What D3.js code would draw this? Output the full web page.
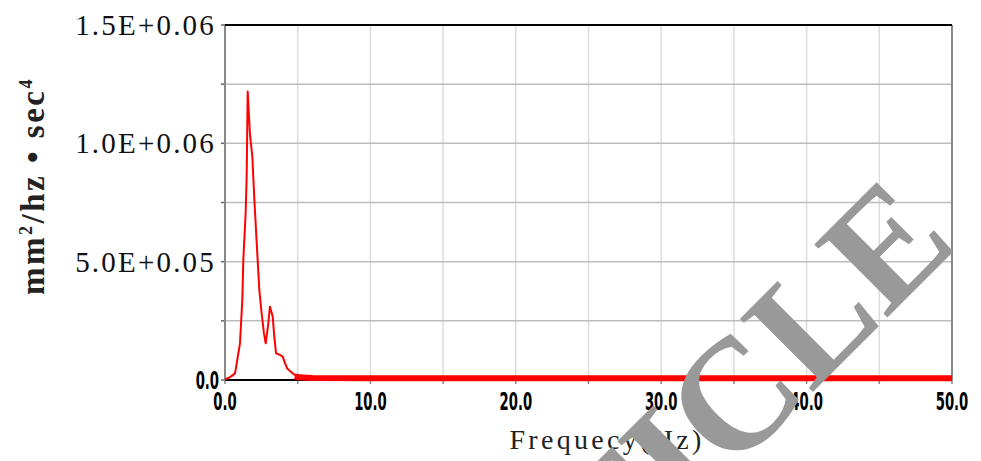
<html>
  <head>
    <script src="https://cdn.jsdelivr.net/npm/d3@7"></script>
    <style>
     body { margin: 0; background: #fff; }
     .grid-h line { stroke: #bdbdbd; stroke-width: 1.5px; }
     .grid-v line { stroke: #dcdcdc; stroke-width: 1.5px; }
     .num { font-family: "DejaVu Sans", sans-serif; font-weight: bold; font-size: 24px; fill: #000; }
     .sci { font-family: "Liberation Serif", serif; font-size: 29px; letter-spacing: 2.2px; fill: #111; }
     .title { font-family: "Liberation Serif", serif; fill: #222; }
     .mark { font-family: "Liberation Serif", serif; font-weight: bold; fill: #999; }
    </style>
  </head>
  <body>
    <svg id="chart" width="981" height="461"></svg>
    <script>
     // spectrum
     var freq = [0.0, 0.35, 0.69, 1.03, 1.19, 1.26, 1.42, 1.49, 1.56, 1.72, 1.88, 2.02, 2.22, 2.36, 2.52, 2.68, 2.80, 2.98, 3.09, 3.28, 3.39, 3.51, 3.78, 3.97, 4.13, 4.28, 4.52, 4.81, 5.3, 5.85];
     var psd  = [2000, 12000, 28000, 155000, 338000, 507000, 705000, 860000, 1219000, 1035000, 944000, 761000, 535000, 380000, 282000, 197000, 155000, 240000, 310000, 268000, 183000, 113000, 106000, 99000, 70000, 49000, 35000, 21000, 18000, 17000];
     // flat noise floor after ~5 Hz
     var tailFreq = [4.8, 5.0, 6.0, 10.0, 15.0, 20.0, 25.0, 30.0, 35.0, 40.0, 45.0, 50.0];
     var tailPsd  = [15000, 12000, 8000, 7000, 7000, 7000, 7000, 7000, 7000, 7000, 7000, 7000];

     var xTicks = [0, 10, 20, 30, 40, 50];
     var yTicks = [0, 500000, 1000000, 1500000];
     var yTickLabels = ["0.0", "5.0E+0.05", "1.0E+0.06", "1.5E+0.06"];
     var xGrid = d3.range(5, 50, 5);
     var yGrid = [250000, 500000, 750000, 1000000, 1250000];

     var svg = d3.select("#chart");
     var x0 = 225, x1 = 952, y0 = 25, y1 = 380;

     var x = d3.scaleLinear().domain([0, 50]).range([x0, x1]);
     var y = d3.scaleLinear().domain([0, 1500000]).range([y1, y0]);

     // grid
     svg.append("g").attr("class", "grid-v")
        .selectAll("line").data(xGrid).enter().append("line")
        .attr("x1", function(d) { return x(d); }).attr("x2", function(d) { return x(d); })
        .attr("y1", y0).attr("y2", y1);
     svg.append("g").attr("class", "grid-h")
        .selectAll("line").data(yGrid).enter().append("line")
        .attr("x1", x0).attr("x2", x1)
        .attr("y1", function(d) { return y(d); }).attr("y2", function(d) { return y(d); });

     // small ticks
     svg.append("g").selectAll("line").data(yGrid.concat([0, 1500000])).enter().append("line")
        .attr("x1", x0 - 4).attr("x2", x0)
        .attr("y1", function(d) { return y(d); }).attr("y2", function(d) { return y(d); })
        .attr("stroke", "#666").attr("stroke-width", 1.5);
     svg.append("g").selectAll("line").data(xGrid.concat([0, 50])).enter().append("line")
        .attr("x1", function(d) { return x(d); }).attr("x2", function(d) { return x(d); })
        .attr("y1", y1).attr("y2", y1 + 4)
        .attr("stroke", "#888").attr("stroke-width", 1.5);

     // frame
     svg.append("line").attr("x1", x0).attr("x2", x0).attr("y1", y0).attr("y2", y1)
        .attr("stroke", "#888").attr("stroke-width", 2);
     svg.append("line").attr("x1", x1).attr("x2", x1).attr("y1", y0).attr("y2", y1)
        .attr("stroke", "#888").attr("stroke-width", 2);
     svg.append("line").attr("x1", x0).attr("x2", x1).attr("y1", y0).attr("y2", y0)
        .attr("stroke", "#000").attr("stroke-width", 2);
     svg.append("line").attr("x1", x0).attr("x2", x1).attr("y1", y1).attr("y2", y1)
        .attr("stroke", "#000").attr("stroke-width", 2);

     // data
     var line = d3.line().x(function(d) { return x(d[0]); }).y(function(d) { return y(d[1]); });
     svg.append("path").datum(d3.zip(tailFreq, tailPsd))
        .attr("d", line).attr("fill", "none").attr("stroke", "#ff0000").attr("stroke-width", 6);
     svg.append("path").datum(d3.zip(freq, psd))
        .attr("d", line).attr("fill", "none").attr("stroke", "#ff0000").attr("stroke-width", 2)
        .attr("stroke-linejoin", "round");

     // tick labels (narrow digits)
     svg.append("g").selectAll("text").data(xTicks).enter().append("text")
        .attr("class", "num")
        .attr("transform", function(d) { return "translate(" + x(d) + ",410) scale(0.55,1)"; })
        .attr("text-anchor", "middle").text(function(d) { return d3.format(".1f")(d); });
     svg.append("g").selectAll("text").data(yTicks.slice(1)).enter().append("text")
        .attr("class", "sci")
        .attr("x", 216)
        .attr("y", function(d) { return y(d); })
        .attr("dy", "0.35em")
        .attr("text-anchor", "end")
        .text(function(d, i) { return yTickLabels[i + 1]; });
     svg.append("text").attr("class", "num")
        .attr("transform", "translate(219," + (y(yTicks[0]) + 9) + ") scale(0.55,1)")
        .attr("text-anchor", "end").text(yTickLabels[0]);

     // axis titles
     svg.append("text").attr("class", "title").attr("x", 607).attr("y", 449)
        .attr("text-anchor", "middle").style("font-size", "28px").style("letter-spacing", "3.3px")
        .text("Frequecy(Hz)");
     var yt = svg.append("text").attr("class", "title")
        .attr("transform", "translate(44,186) rotate(-90)")
        .attr("text-anchor", "middle").style("font-size", "33px")
        .style("font-weight", "bold").style("letter-spacing", "2.5px");
     yt.append("tspan").text("mm");
     yt.append("tspan").attr("dy", -12).style("font-size", "18px").text("2");
     yt.append("tspan").attr("dy", 12).text("/hz \u2022 sec");
     yt.append("tspan").attr("dy", -12).style("font-size", "18px").text("4");

     // watermark
     svg.append("text").attr("class", "mark")
        .attr("transform", "translate(960,245) rotate(-45)")
        .attr("text-anchor", "end").style("font-size", "158px")
        .text("RETRACTED ARTICLE");
    </script>
  </body>
</html>
